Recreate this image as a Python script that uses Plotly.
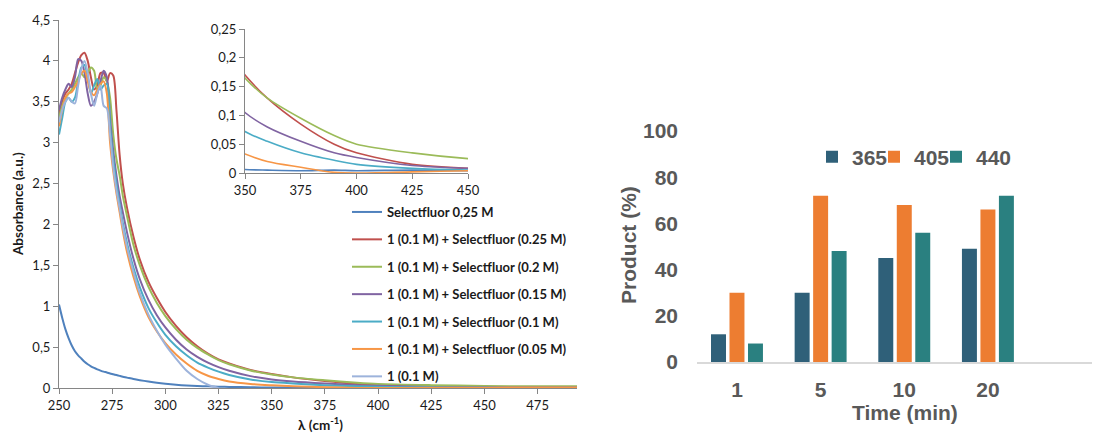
import plotly.graph_objects as go

# ---------------- data: UV-vis spectra ----------------
WAVELENGTH = [250, 251.5, 253, 254.5, 256, 257.5, 259, 260.5, 262, 263.5, 265, 266.5, 268, 269.5,
              271, 272.5, 274, 275.5, 277, 278.5, 280,
              282, 285, 288, 292, 296, 300, 305, 310, 315, 320, 325, 330, 340, 350, 360, 375,
              390, 400, 425, 450, 475, 494]

SELECTFLUOR_025 = [1.02, 0.86, 0.72, 0.61, 0.52, 0.45, 0.40, 0.36, 0.32, 0.29, 0.265, 0.245, 0.228, 0.213,
                   0.20, 0.19, 0.178, 0.168, 0.158, 0.148, 0.138,
                   0.127, 0.11, 0.096, 0.079, 0.064, 0.052, 0.04, 0.031, 0.025, 0.02, 0.016, 0.013, 0.009,
                   0.006, 0.005, 0.004, 0.005, 0.004, 0.005, 0.004, 0.004, 0.004]

MIX_025 = [3.35, 3.5, 3.6, 3.65, 3.72, 3.85, 3.98, 4.07, 4.1, 4.0, 3.8, 3.65, 3.7, 3.85,
           3.85, 3.75, 3.85, 3.82, 3.4, 2.85, 2.5,
           2.2, 1.85, 1.57, 1.3, 1.1, 0.93, 0.76, 0.62, 0.51, 0.42, 0.35, 0.30, 0.22,
           0.17, 0.13, 0.085, 0.05, 0.035, 0.015, 0.008, 0.006, 0.006]

MIX_020 = [3.3, 3.45, 3.55, 3.6, 3.65, 3.72, 3.8, 3.85, 3.8, 3.85, 3.92, 3.88, 3.65, 3.7,
           3.8, 3.75, 3.55, 3.1, 2.8, 2.6, 2.35,
           2.1, 1.75, 1.5, 1.24, 1.04, 0.88, 0.72, 0.59, 0.49, 0.41, 0.34, 0.29, 0.215,
           0.165, 0.13, 0.095, 0.065, 0.05, 0.035, 0.025, 0.02, 0.02]

MIX_015 = [3.4, 3.55, 3.65, 3.72, 3.68, 3.8, 4.02, 4.0, 3.85, 3.6, 3.45, 3.5, 3.6, 3.75,
           3.88, 3.8, 3.3, 2.9, 2.6, 2.35, 2.15,
           1.9, 1.58, 1.33, 1.08, 0.89, 0.74, 0.59, 0.47, 0.38, 0.31, 0.255, 0.21, 0.145,
           0.105, 0.08, 0.055, 0.035, 0.027, 0.013, 0.008, 0.005, 0.005]

MIX_010 = [3.1, 3.3, 3.5, 3.55, 3.5, 3.55, 3.75, 3.92, 3.95, 3.8, 3.6, 3.7, 3.78, 3.65,
           3.7, 3.72, 3.2, 2.8, 2.5, 2.25, 2.02,
           1.77, 1.47, 1.23, 0.98, 0.8, 0.65, 0.51, 0.4, 0.31, 0.25, 0.2, 0.16, 0.105,
           0.072, 0.055, 0.035, 0.022, 0.015, 0.008, 0.005, 0.004, 0.004]

MIX_005 = [3.2, 3.4, 3.55, 3.6, 3.62, 3.68, 3.75, 3.85, 3.88, 3.75, 3.62, 3.58, 3.65, 3.72,
           3.75, 3.6, 3.0, 2.65, 2.38, 2.15, 1.92,
           1.66, 1.36, 1.12, 0.87, 0.69, 0.55, 0.41, 0.3, 0.21, 0.15, 0.11, 0.08, 0.05,
           0.033, 0.02, 0.01, 0.001, 0.0, 0.002, 0.004, 0.005, 0.005]

SUBSTRATE_01 = [3.25, 3.4, 3.5, 3.55, 3.5, 3.48, 3.7, 3.9, 4.0, 3.85, 3.6, 3.45, 3.6, 3.7,
                3.45, 3.42, 3.1, 2.7, 2.42, 2.2, 1.97,
                1.72, 1.42, 1.16, 0.9, 0.7, 0.53, 0.36, 0.21, 0.11, 0.04, 0.0, None, None,
                None, None, None, None, None, None, None, None, None]

SERIES_NAMES = ["Selectfluor 0,25 M",
                "1 (0.1 M) + Selectfluor (0.25 M)",
                "1 (0.1 M) + Selectfluor (0.2 M)",
                "1 (0.1 M) + Selectfluor (0.15 M)",
                "1 (0.1 M) + Selectfluor (0.1 M)",
                "1 (0.1 M) + Selectfluor (0.05 M)",
                "1 (0.1 M)"]
SERIES_VALUES = [SELECTFLUOR_025, MIX_025, MIX_020, MIX_015, MIX_010, MIX_005, SUBSTRATE_01]
SERIES_COLORS = ["#4F81BD", "#C0504D", "#9BBB59", "#8064A2", "#4BACC6", "#F79646", "#9DB3DB"]

# ---------------- data: product yield bars ----------------
TIME_LABELS = ["1", "5", "10", "20"]
WAVELENGTH_LABELS = ["365", "405", "440"]
YIELD_365 = [12, 30, 45, 49]
YIELD_405 = [30, 72, 68, 66]
YIELD_440 = [8, 48, 56, 72]
BAR_VALUES = [YIELD_365, YIELD_405, YIELD_440]
BAR_COLORS = ["#2F6079", "#ED7D31", "#2A8080"]

# page body has an 8px margin, so the figure is offset by 8px
OFF = 8
W, H = 1100 - OFF, 434 - OFF
def px_x(p):
    return (p - OFF) / W
def px_y(p):
    return 1 - (p - OFF) / H

LEFT_FONT = "Lato, Carlito, Calibri, sans-serif"
RIGHT_FONT = "Liberation Sans, Arial, sans-serif"
AXIS_GREY = "#868686"
TEXT_DARK = "#1a1a1a"
TEXT_GREY = "#595959"

fig = go.Figure()

for name, vals, color in zip(SERIES_NAMES, SERIES_VALUES, SERIES_COLORS):
    fig.add_trace(go.Scatter(
        x=WAVELENGTH, y=vals, name=name, mode="lines",
        line=dict(color=color, width=2, shape="spline", smoothing=0.8),
        xaxis="x", yaxis="y", legend="legend", legendgroup=name,
    ))

for name, vals, color in zip(SERIES_NAMES, SERIES_VALUES, SERIES_COLORS):
    fig.add_trace(go.Scatter(
        x=WAVELENGTH, y=vals, name=name, mode="lines", showlegend=False,
        line=dict(color=color, width=1.6, shape="spline", smoothing=0.8),
        xaxis="x2", yaxis="y2",
    ))

BAR_LEGENDS = ["legend2", "legend3", "legend4"]
for name, vals, color, leg in zip(WAVELENGTH_LABELS, BAR_VALUES, BAR_COLORS, BAR_LEGENDS):
    fig.add_trace(go.Bar(
        x=TIME_LABELS, y=vals, name=name, marker=dict(color=color, line=dict(width=0)),
        xaxis="x3", yaxis="y3", legend=leg,
    ))

common_line_axis = dict(showline=True, linecolor=AXIS_GREY, linewidth=1, ticks="outside",
                        ticklen=5, tickcolor=AXIS_GREY, showgrid=False, zeroline=False,
                        automargin=False,
                        tickfont=dict(family=LEFT_FONT, size=13, color=TEXT_DARK))

bar_font = dict(family=RIGHT_FONT, size=21, color=TEXT_GREY, weight="bold")
def bar_legend(center_px):
    return dict(x=px_x(center_px - 20), y=px_y(157), xanchor="left", yanchor="middle",
                orientation="h", bgcolor="rgba(0,0,0,0)", borderwidth=0, font=bar_font)

fig.update_layout(
    template="none",
    width=W, height=H, autosize=False,
    margin=dict(l=0, r=0, t=0, b=0, pad=0),
    paper_bgcolor="white", plot_bgcolor="rgba(0,0,0,0)",
    separators=", ",
    barmode="group", bargap=0.337, bargroupgap=0.19,
    xaxis=dict(domain=[px_x(59), px_x(577)], range=[250, 493.5], tick0=250, dtick=25,
               anchor="y", **common_line_axis),
    yaxis=dict(domain=[px_y(388), px_y(20)], range=[0, 4.5], dtick=0.5,
               anchor="x", **common_line_axis),
    xaxis2=dict(domain=[px_x(245), px_x(468)], range=[350, 450], tick0=350, dtick=25,
                anchor="y2", **common_line_axis),
    yaxis2=dict(domain=[px_y(173), px_y(29)], range=[0, 0.25], dtick=0.05,
                anchor="x2", **common_line_axis),
    xaxis3=dict(domain=[px_x(697), 1], range=[-0.478, 4.34], type="category",
                anchor="y3", showline=True, linecolor="#D9D9D9", linewidth=1.5,
                ticks="", showgrid=False, zeroline=False, ticklabelstandoff=8, automargin=False,
                tickfont=bar_font),
    yaxis3=dict(domain=[px_y(362), px_y(131)], range=[0, 100], dtick=20,
                anchor="free", position=px_x(678), side="left",
                showline=False, showgrid=False, zeroline=False,
                ticks="", automargin=False, tickfont=bar_font),
    legend=dict(x=px_x(347), y=px_y(197), xanchor="left", yanchor="top",
                orientation="v", traceorder="grouped", tracegroupgap=7.5,
                bgcolor="rgba(0,0,0,0)", borderwidth=0,
                font=dict(family=LEFT_FONT, size=13, color=TEXT_DARK, weight="bold")),
    legend2=bar_legend(832),
    legend3=bar_legend(894),
    legend4=bar_legend(956),
    annotations=[
        dict(text="Absorbance (a.u.)", x=px_x(18), y=px_y(204), xref="paper", yref="paper",
             xanchor="center", yanchor="middle", showarrow=False, textangle=-90,
             font=dict(family=LEFT_FONT, size=13.5, color=TEXT_DARK, weight="bold")),
        dict(text="λ (cm<sup>-1</sup>)", x=px_x(320), y=px_y(424), xref="paper", yref="paper",
             xanchor="center", yanchor="middle", showarrow=False,
             font=dict(family=LEFT_FONT, size=13.5, color=TEXT_DARK, weight="bold")),
        dict(text="Product (%)", x=px_x(628), y=px_y(245), xref="paper", yref="paper",
             xanchor="center", yanchor="middle", showarrow=False, textangle=-90,
             font=bar_font),
        dict(text="Time (min)", x=px_x(905), y=px_y(412), xref="paper", yref="paper",
             xanchor="center", yanchor="middle", showarrow=False,
             font=bar_font),
    ],
)

fig.write_html("out.html")
